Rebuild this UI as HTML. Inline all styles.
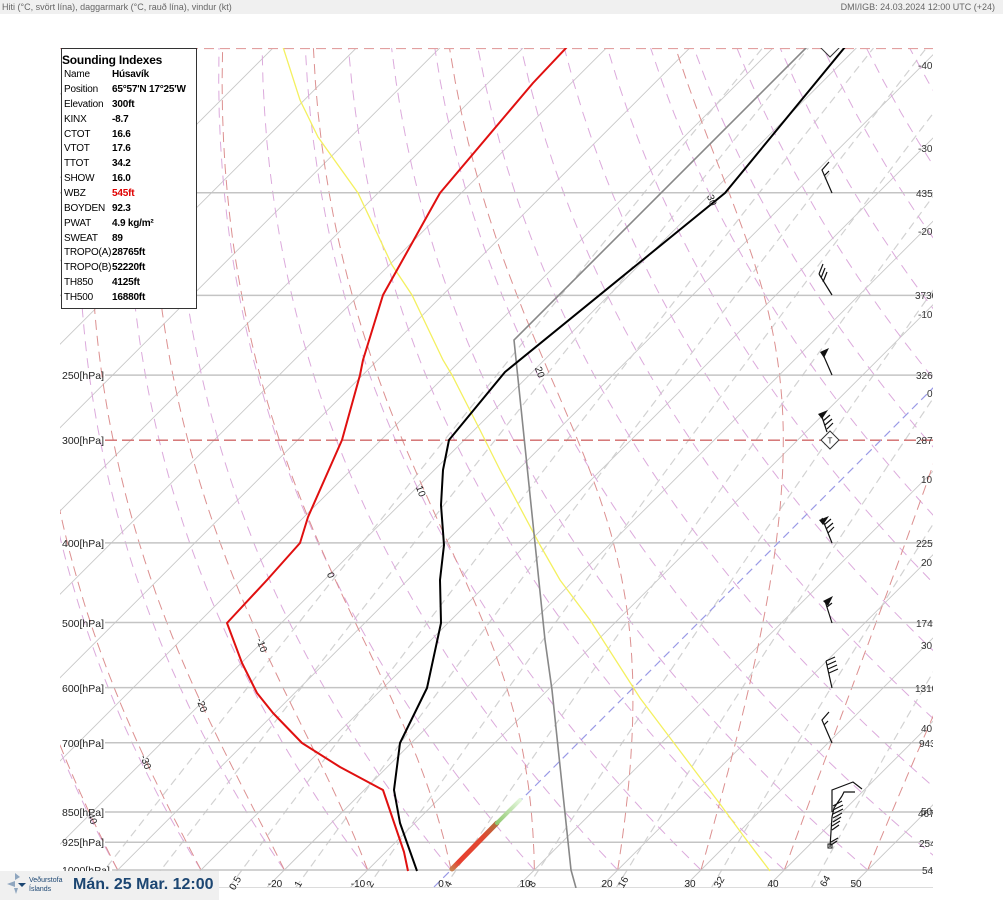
<!DOCTYPE html>
<html><head><meta charset="utf-8">
<style>
html,body{margin:0;padding:0;}
body{width:1003px;height:900px;position:relative;overflow:hidden;background:#fff;font-family:"Liberation Sans",Arial,sans-serif;}
#hdr{position:absolute;left:0;top:0;width:1003px;height:14px;background:#f0f0f0;font-size:9px;color:#666;}
#hdr .l{position:absolute;left:2px;top:2px;white-space:nowrap;}
#hdr .r{position:absolute;right:8px;top:2px;white-space:nowrap;}
#chart{position:absolute;left:0;top:0;}
#box{position:absolute;left:61px;top:48px;width:134px;height:259px;border:1px solid #333;background:#fff;}
#box .t{position:absolute;left:0px;top:4px;font-size:12px;font-weight:bold;line-height:14px;color:#000;white-space:nowrap;letter-spacing:-0.2px;}
#box .row{position:absolute;left:2px;font-size:10px;line-height:12px;color:#000;white-space:nowrap;letter-spacing:-0.2px;}
#box .row b{position:absolute;left:48px;top:0;font-weight:bold;}
#logo{position:absolute;left:0;top:871px;width:219px;height:29px;background:#f0f0f0;}
#logo .vi{position:absolute;left:29px;font-size:7px;line-height:8px;color:#1c4672;white-space:nowrap;}
#logo .dt{position:absolute;left:73px;top:4px;font-size:16px;font-weight:bold;line-height:20px;color:#1c4672;white-space:nowrap;}
</style></head><body>
<div id="hdr"><span class="l">Hiti (°C, svört lína), daggarmark (°C, rauð lína), vindur (kt)</span><span class="r">DMI/IGB: 24.03.2024 12:00 UTC (+24)</span></div>

<svg id="chart" width="933" height="900" xmlns="http://www.w3.org/2000/svg" font-family="Liberation Sans, Arial, sans-serif">
<defs>
<clipPath id="pc"><rect x="60" y="48" width="873" height="840"/></clipPath>
<linearGradient id="pg1" x1="452" y1="869" x2="497" y2="823" gradientUnits="userSpaceOnUse">
<stop offset="0" stop-color="#c88050"/><stop offset="0.15" stop-color="#e84030"/><stop offset="0.7" stop-color="#e04830"/><stop offset="1" stop-color="#b07040"/>
</linearGradient>
<linearGradient id="pg2" x1="497" y1="823" x2="520" y2="800" gradientUnits="userSpaceOnUse">
<stop offset="0" stop-color="#90c870"/><stop offset="1" stop-color="#e4f6dc"/>
</linearGradient>
</defs>

<g id="grid" clip-path="url(#pc)">
<path fill="none" stroke="#c8c8c8" stroke-width="0.9" d="M-816,887L24,47M-732.7,887L107.3,47M-649.3,887L190.7,47M-566,887L274,47M-482.7,887L357.3,47M-399.3,887L440.7,47M-316,887L524,47M-232.7,887L607.3,47M-149.3,887L690.7,47M-66,887L774,47M17.3,887L857.3,47M100.7,887L940.7,47M184,887L1024,47M267.3,887L1107.3,47M350.7,887L1190.7,47M517.3,887L1357.3,47M600.7,887L1440.7,47M684,887L1524,47M767.3,887L1607.3,47M850.7,887L1690.7,47"/>
</g>

<g clip-path="url(#pc)">
<!-- pressure lines -->
<g stroke="#c4c4c4" stroke-width="1.5">
<line x1="112" y1="870" x2="933" y2="870"/>
<line x1="105" y1="842.2" x2="933" y2="842.2"/>
<line x1="105" y1="812" x2="933" y2="812"/>
<line x1="105" y1="742.7" x2="933" y2="742.7"/>
<line x1="105" y1="687.6" x2="933" y2="687.6"/>
<line x1="105" y1="622.5" x2="933" y2="622.5"/>
<line x1="105" y1="542.9" x2="933" y2="542.9"/>
<line x1="105" y1="375.1" x2="933" y2="375.1"/>
<line x1="60" y1="295.4" x2="933" y2="295.4"/>
<line x1="60" y1="192.7" x2="933" y2="192.7"/>
</g>
<line x1="219" y1="887.5" x2="933" y2="887.5" stroke="#dcdcdc" stroke-width="1"/>
<line x1="105" y1="440.2" x2="933" y2="440.2" stroke="#d06868" stroke-width="1.3" stroke-dasharray="12,5"/>
<line x1="60" y1="48.5" x2="933" y2="48.5" stroke="#e2a0a0" stroke-width="1.2" stroke-dasharray="10,6"/>
<!-- 0 C isotherm -->
<line x1="434" y1="887" x2="1274" y2="47" stroke="#9a9ae6" stroke-width="1.2" stroke-dasharray="8,5"/>
<!-- thick segment -->
<line x1="452" y1="869" x2="497" y2="823" stroke="url(#pg1)" stroke-width="5" stroke-linecap="round"/>
<line x1="497" y1="823" x2="520" y2="800" stroke="url(#pg2)" stroke-width="4" stroke-linecap="round"/>
<!-- yellow -->
<polyline fill="none" stroke="#f4f060" stroke-width="1.3" points="283,47 300,100 318,137 358,193 392,265 412,295 443,360 452,375 480,430 500,470 540,545 560,580 590,620 640,698 680,751 720,804 745,838 770,871"/>
<!-- grey -->
<polyline fill="none" stroke="#888" stroke-width="1.6" points="576,888 571,870 552,690 545,640 514,340 807,47"/>
<!-- red dewpoint -->
<polyline fill="none" stroke="#e01010" stroke-width="2" stroke-linejoin="round" points="567,47 533,83 440,193 397,270 383,295 363,360 360,375 342,440 308,517 300,543 267,580 227,623 242,663 257,693 273,713 302,743 340,767 383,790 404,852 408,871"/>
<!-- black temperature -->
<polyline fill="none" stroke="#000" stroke-width="2" stroke-linejoin="round" points="845,47 725,193 505,372 449,440 443,470 441,505 444,545 440,580 441,623 427,688 400,743 394,790 400,823 417,871"/>
<!-- top diamond -->
<polygon points="830,39 839,48 830,57 821,48" fill="#fff" stroke="#333" stroke-width="1"/>
</g>

<!-- wind barbs -->
<g stroke="#111" stroke-width="1.2" fill="none">
<path d="M832,193 L822,170 L829,162 M824,176 L829,171"/>
<path d="M832,295 L819,274 M819,274 L823,264 M821,278 L825,268 M823,282 L827,272"/>
<path d="M832,375 L822,352"/>
<path d="M827,432 L821,414 M823,421 L830,415 M825,425 L832,419 M827,429 L833,423"/>
<path d="M832,543 L822,518 M824,525 L831,519 M826,529 L833,523 M828,533 L834,527"/>
<path d="M832,623 L825,601 M827,607 L832,603"/>
<path d="M832,688 L826,661 M826,661 L835,657 M827,665 L836,661 M828,669 L837,665 M829,673 L838,669"/>
<path d="M832,743 L822,720 L829,712 M824,725 L828,721"/>
<path d="M830,847 L832,817 L834,808 L842,796 M832,812 L832,790 L853,782 L862,789 M842,796 L844,792 L855,792 M833,806 L842,801 M833,810 L843,805 M833,814 L843,809 M833,818 L842,813 M833,822 L841,817 M832,826 L840,821 M832,830 L839,825 M831,842 L838,838 M831,845 L837,841"/>
</g>
<g fill="#111">
<polygon points="820,352 829,348 824,358"/>
<polygon points="818,414 828,410 822,419"/>
<polygon points="819,520 829,516 823,525"/>
<polygon points="823,601 833,596 828,606"/>
<rect x="828" y="844" width="4" height="4" fill="none" stroke="#111" stroke-width="1"/>
</g>
<polygon points="830,431 839,440 830,449 821,440" fill="#fff" stroke="#333" stroke-width="1"/>
<text x="830" y="443.5" font-size="8" text-anchor="middle" fill="#111">T</text>

<!-- pressure labels -->
<g font-size="10.5" fill="#222">
<text x="62" y="874">1000[hPa]</text>
<text x="62" y="846">925[hPa]</text>
<text x="62" y="816">850[hPa]</text>
<text x="62" y="747">700[hPa]</text>
<text x="62" y="692">600[hPa]</text>
<text x="62" y="627">500[hPa]</text>
<text x="62" y="547">400[hPa]</text>
<text x="62" y="444">300[hPa]</text>
<text x="62" y="379">250[hPa]</text>
</g>

<!-- right labels -->
<g font-size="10" fill="#333">
<text x="918" y="69">-40</text>
<text x="918" y="152">-30</text>
<text x="918" y="235">-20</text>
<text x="918" y="318">-10</text>
<text x="927" y="397">0</text>
<text x="921" y="483">10</text>
<text x="921" y="566">20</text>
<text x="921" y="649">30</text>
<text x="921" y="732">40</text>
<text x="921" y="815">50</text>
<text x="916" y="197">43500</text>
<text x="915" y="299">37300</text>
<text x="916" y="379">32600</text>
<text x="916" y="444">28700</text>
<text x="916" y="547">22500</text>
<text x="916" y="627">17400</text>
<text x="915" y="692">13100</text>
<text x="919" y="747">9430</text>
<text x="918" y="817">4670</text>
<text x="919" y="847">2540</text>
<text x="922" y="874">54ft</text>
</g>

<!-- bottom temperature labels -->
<g font-size="10" fill="#222" text-anchor="middle">
<text x="275" y="887">-20</text>
<text x="358" y="887">-10</text>
<text x="441" y="887">0</text>
<text x="525" y="887">10</text>
<text x="607" y="887">20</text>
<text x="690" y="887">30</text>
<text x="773" y="887">40</text>
<text x="856" y="887">50</text>
</g>
<!-- mixing ratio labels -->
<g font-size="10" fill="#222" text-anchor="middle">
<text x="235" y="886.5" transform="rotate(-60 235 883)">0.5</text>
<text x="298" y="887.5" transform="rotate(-60 298 884)">1</text>
<text x="370" y="887.5" transform="rotate(-60 370 884)">2</text>
<text x="448" y="887.5" transform="rotate(-60 448 884)">4</text>
<text x="532" y="887.5" transform="rotate(-60 532 884)">8</text>
<text x="623" y="885.5" transform="rotate(-60 623 882)">16</text>
<text x="719" y="885.5" transform="rotate(-60 719 882)">32</text>
<text x="825" y="884.5" transform="rotate(-60 825 881)">64</text>
</g>
<!-- in-plot adiabat labels -->
<g font-size="10" fill="#222" text-anchor="middle">
<text x="712" y="203.5" transform="rotate(70 712 200)">30</text>
<text x="540" y="375.5" transform="rotate(70 540 372)">20</text>
<text x="421" y="494.5" transform="rotate(70 421 491)">10</text>
<text x="331" y="578.5" transform="rotate(70 331 575)">0</text>
<text x="262" y="648.5" transform="rotate(70 262 645)">-10</text>
<text x="202" y="708.5" transform="rotate(70 202 705)">-20</text>
<text x="146" y="765.5" transform="rotate(70 146 762)">-30</text>
<text x="92" y="820.5" transform="rotate(70 92 817)">-40</text>
</g>
</svg>

<div id="box">
<div class="t">Sounding Indexes</div>
<div class="row" style="top:20px">Name<b>Húsavík</b></div>
<div class="row" style="top:34.9px">Position<b>65°57'N 17°25'W</b></div>
<div class="row" style="top:49.7px">Elevation<b>300ft</b></div>
<div class="row" style="top:64.6px">KINX<b>-8.7</b></div>
<div class="row" style="top:79.5px">CTOT<b>16.6</b></div>
<div class="row" style="top:94.4px">VTOT<b>17.6</b></div>
<div class="row" style="top:109.2px">TTOT<b>34.2</b></div>
<div class="row" style="top:124.1px">SHOW<b>16.0</b></div>
<div class="row" style="top:139px">WBZ<b style="color:#e00000">545ft</b></div>
<div class="row" style="top:153.8px">BOYDEN<b>92.3</b></div>
<div class="row" style="top:168.7px">PWAT<b>4.9 kg/m²</b></div>
<div class="row" style="top:183.6px">SWEAT<b>89</b></div>
<div class="row" style="top:198.4px">TROPO(A)<b>28765ft</b></div>
<div class="row" style="top:213.3px">TROPO(B)<b>52220ft</b></div>
<div class="row" style="top:228.2px">TH850<b>4125ft</b></div>
<div class="row" style="top:243px">TH500<b>16880ft</b></div>
</div>

<div id="logo">
<svg width="28" height="29" style="position:absolute;left:0;top:0" xmlns="http://www.w3.org/2000/svg">
<polygon points="15,2 20,6 15,9" fill="#8fa6bf"/>
<polygon points="15,10 15,16 7,13" fill="#8fa6bf"/>
<polygon points="18,12 26,12 22,16" fill="#1c4672"/>
<polygon points="14,17 18,17 16,23" fill="#8fa6bf"/>
</svg>
<div class="vi" style="top:6px">Veðurstofa</div>
<div class="vi" style="top:15px">Íslands</div>
<div class="dt">Mán. 25 Mar. 12:00</div>
</div>

<script>
(function(){
var NS="http://www.w3.org/2000/svg";
var g=document.getElementById('grid');
var K=357,X0=451,S=8.3333;
function Y(p){return 870-K*Math.log(1000/p);}
function X(T,p){return X0+S*T+K*Math.log(1000/p);}
function poly(pts,stroke,dash,w){
  var e=document.createElementNS(NS,'polyline');
  e.setAttribute('points',pts.map(function(a){return a[0].toFixed(1)+','+a[1].toFixed(1);}).join(' '));
  e.setAttribute('fill','none');e.setAttribute('stroke',stroke);e.setAttribute('stroke-width',w||1);
  if(dash)e.setAttribute('stroke-dasharray',dash);
  g.appendChild(e);
}
// mixing ratio lines
[0.1,0.2,0.5,1,2,4,8,16,32,64].forEach(function(w){
  var pts=[];
  for(var p=1050;p>=99.9;p-=10){var e=w*p/(622+w);var l=Math.log(e/6.112);var Td=243.5*l/(17.67-l);pts.push([X(Td,p),Y(p)]);}
  poly(pts,'#d2d2d2','8,5',1.2);
});
// dry adiabats
for(var th=-50;th<=190;th+=10){
  var tk=th+273.15,pts=[];
  for(var p=1000;p>=99.9;p-=10){var T=tk*Math.pow(p/1000,0.2857)-273.15;pts.push([X(T,p),Y(p)]);}
  poly(pts,'#dcaadc','10,7',1);
}
// moist adiabats
function es(T){return 6.112*Math.exp(17.67*T/(T+243.5));}
for(var t0=-40;t0<=50;t0+=10){
  var T=t0+273.15,p=1000,pts=[[X(t0,1000),870]],n=0;
  while(p>100.5){
    var dp=-2,Tc=T-273.15,e=es(Tc),rs=0.622*e/(p-e);
    var dTdp=(287.04*T+2.501e6*rs)/(p*(1005.7+2.501e6*2.501e6*rs*0.622/(287.04*T*T)));
    T+=dTdp*dp;p+=dp;n++;
    if(n%5==0)pts.push([X(T-273.15,p),Y(p)]);
  }
  poly(pts,'#dc9090','10,6',1);
}
})();
</script>
</body></html>
